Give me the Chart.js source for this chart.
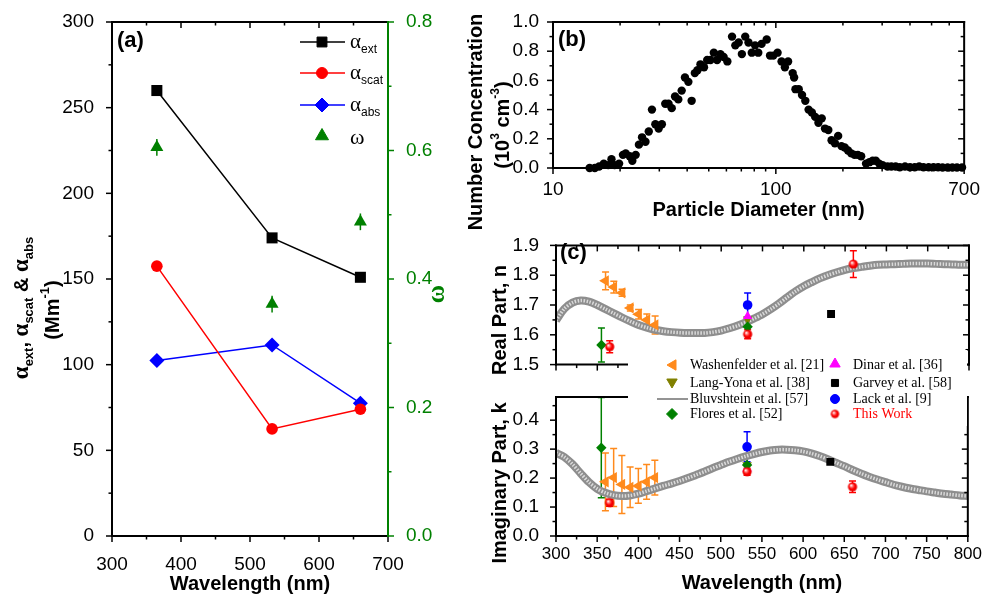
<!DOCTYPE html>
<html>
<head>
<meta charset="utf-8">
<script src="https://cdn.jsdelivr.net/npm/chart.js@4.4.0/dist/chart.umd.min.js"></script>
<style>
body { margin: 0; background: #fff; }
#wrap { position: relative; width: 982px; height: 594px; overflow: hidden; background: #fff; }
canvas { position: absolute; }
</style>
</head>
<body>
<div id="wrap">
<canvas id="cA" width="480" height="594" style="left:0px;top:0px"></canvas>
<canvas id="cB" width="542" height="240" style="left:440px;top:0px"></canvas>
<canvas id="cR" width="542" height="160" style="left:440px;top:225px"></canvas>
<canvas id="cI" width="542" height="254" style="left:440px;top:340px"></canvas>
</div>
<script>
//Panel (a): coeficientes vs longitud de onda
var wlA = [365, 532, 660];
var extA = [260, 174, 151];
var scatA = [157.5, 62.5, 74];
var absA = [102.5, 111.5, 77.5];
var omegaA = [0.605, 0.361, 0.489];
var omegaErrA = [0.013, 0.013, 0.013];
var ticksAx = [300, 400, 500, 600, 700];
var minorAx = [350, 450, 550, 650];
var ticksAy = [0, 50, 100, 150, 200, 250, 300];
var minorAy = [25, 75, 125, 175, 225, 275];
var ticksAw = [0, 0.2, 0.4, 0.6, 0.8];
var minorAw = [0.1, 0.3, 0.5, 0.7];

//Panel (b): distribucion de tamanos
var diamB = [14.6, 15.4, 16.1, 16.9, 17.7, 18.3, 18.9, 19.8, 20.6, 21.2, 22.1, 22.7, 23.5, 24.3,
    25.1, 26.0, 26.9, 27.8, 28.8, 29.8, 30.8, 31.9, 33.0, 34.1,
    35.3, 36.5, 37.8, 39.1, 40.5, 41.9, 43.3, 44.5, 45.9,
    47.6, 49.2, 50.9, 52.7, 54.5, 56.4, 58.3, 60.6,
    63.6, 65.8, 68.1, 70.4, 72.9, 75.4, 78.0, 80.7, 83.4, 86.3,
    91.0, 94.2, 97.4, 101.8, 106.1, 109.8, 113.5, 119.0, 120.8, 122.5,
    126.7, 131.1, 135.6, 140.3, 145.1, 150.2, 155.3, 160.7, 166.2, 172.0,
    177.9, 184.1, 190.4, 197.0, 203.8, 210.8, 218.1, 225.6, 233.4, 241.5,
    254, 263, 272, 281, 291, 301, 317,
    330, 345, 360, 380, 400, 420, 440, 460, 485, 510, 535, 560, 590, 620, 650, 685];
var concB = [0, 0, 0.01, 0.03, 0.02, 0.06, 0.02, 0.03, 0.09, 0.10, 0.08, 0.05, 0.09, 0.16,
    0.21, 0.18, 0.25, 0.40, 0.30, 0.27, 0.30, 0.44, 0.44, 0.41,
    0.49, 0.47, 0.53, 0.62, 0.59, 0.46, 0.65, 0.67, 0.71,
    0.69, 0.74, 0.74, 0.79, 0.74, 0.78, 0.76, 0.73,
    0.90, 0.84, 0.86, 0.78, 0.90, 0.86, 0.79, 0.84, 0.79, 0.85,
    0.88, 0.77, 0.77, 0.79, 0.73, 0.69, 0.73, 0.65, 0.62, 0.54,
    0.54, 0.50, 0.46, 0.40, 0.38, 0.35, 0.31, 0.34, 0.27, 0.26,
    0.19, 0.17, 0.22, 0.15, 0.14, 0.12, 0.10, 0.09, 0.09, 0.08,
    0.03, 0.04, 0.05, 0.05, 0.03, 0.02, 0.01,
    0.01, 0.01, 0.005, 0.01, 0.005, 0.005, 0.01, 0.005, 0.005, 0.005, 0.005, 0.003, 0.003, 0.003, 0.003, 0.003];
var ticksBx = [10, 100, 700];
var minorBx = [20, 30, 40, 50, 60, 70, 80, 90, 200, 300, 400, 500, 600];
var ticksBy = [0, 0.2, 0.4, 0.6, 0.8, 1.0];
var minorBy = [0.1, 0.3, 0.5, 0.7, 0.9];

//Panel (c): indice de refraccion
var wlCurve = [300, 310, 320, 330, 340, 350, 360, 370, 380, 390, 400, 410, 420, 430, 440, 450, 460, 470, 480, 490,
    500, 510, 520, 530, 540, 550, 560, 570, 580, 590, 600, 610, 620, 630, 640, 650, 660, 670, 680, 690,
    700, 710, 720, 730, 740, 750, 760, 770, 780, 790, 800];
var nCurve = [1.648, 1.687, 1.708, 1.715, 1.711, 1.700, 1.686, 1.672, 1.658, 1.645, 1.633, 1.624, 1.617, 1.612, 1.609, 1.607, 1.606, 1.606, 1.606, 1.609,
    1.614, 1.622, 1.631, 1.642, 1.655, 1.669, 1.686, 1.705, 1.726, 1.746, 1.763, 1.777, 1.790, 1.801, 1.810, 1.818, 1.824, 1.828, 1.832, 1.835,
    1.836, 1.837, 1.838, 1.839, 1.839, 1.839, 1.838, 1.837, 1.836, 1.835, 1.835];
var kCurve = [0.287, 0.273, 0.248, 0.216, 0.186, 0.163, 0.149, 0.141, 0.138, 0.140, 0.146, 0.155, 0.164, 0.173, 0.181, 0.190, 0.200, 0.211, 0.222, 0.234,
    0.245, 0.256, 0.266, 0.275, 0.283, 0.290, 0.295, 0.298, 0.298, 0.296, 0.292, 0.285, 0.276, 0.265, 0.253, 0.241, 0.228, 0.216, 0.205, 0.195,
    0.186, 0.177, 0.170, 0.164, 0.159, 0.154, 0.150, 0.146, 0.143, 0.140, 0.138];
var wlWash = [360, 370, 380, 390, 400, 410, 420];
var nWash = [1.781, 1.760, 1.741, 1.690, 1.669, 1.650, 1.633];
var nWashErr = [0.03, 0.02, 0.012, 0.01, 0.016, 0.02, 0.03];
var kWash = [0.187, 0.202, 0.178, 0.168, 0.173, 0.187, 0.202];
var kWashErr = [0.10, 0.10, 0.10, 0.07, 0.06, 0.06, 0.06];
var wlFlores = [355, 532];
var nFlores = [1.566, 1.627];
var nFloresErr = [0.057, 0];
var kFlores = [0.305, 0.245];
var kFloresErr = [0.173, 0];
var wlLang = [532];
var nLang = [1.652];
var kLang = [0.245];
var wlDinar = [532];
var nDinar = [1.662];
var kDinar = [0.232];
var wlGarvey = [633];
var nGarvey = [1.670];
var kGarvey = [0.256];
var wlLack = [532];
var nLack = [1.700];
var nLackErr = [0.04];
var kLack = [0.308];
var kLackErr = [0.052];
var wlThis = [365, 532, 660];
var nThis = [1.560, 1.602, 1.837];
var nThisErr = [0.02, 0.015, 0.045];
var kThis = [0.115, 0.222, 0.170];
var kThisErr = [0.012, 0.012, 0.02];
var ticksCx = [300, 350, 400, 450, 500, 550, 600, 650, 700, 750, 800];
var minorCx = [325, 375, 425, 475, 525, 575, 625, 675, 725, 775];
var ticksRy = [1.5, 1.6, 1.7, 1.8, 1.9];
var minorRy = [1.55, 1.65, 1.75, 1.85];
var ticksIy = [0, 0.1, 0.2, 0.3, 0.4];
var minorIy = [0.05, 0.15, 0.25, 0.35, 0.45];

var SANS = "'Liberation Sans', Arial, sans-serif";
var SERIF = "'Liberation Serif', 'Times New Roman', serif";
var GREEN = '#008000';
var ORANGE = '#ff8a1c';
Chart.defaults.font.family = SANS;
Chart.defaults.color = '#000';

    function pts(xs, ys) {
        return xs.map(function (x, i) { return { x: x, y: ys[i] }; });
    }

    function setTicks(list) {
        return function (axis) { axis.ticks = list.map(function (v) { return { value: v }; }); };
    }

    function axis(o) {
        return {
            type: o.type || 'linear',
            position: o.pos,
            min: o.min,
            max: o.max,
            grid: { display: false },
            border: { display: false },
            afterBuildTicks: setTicks(o.ticks),
            afterFit: function (a) { if (o.w !== undefined) a.width = o.w; if (o.h !== undefined) a.height = o.h; },
            ticks: {
                display: o.labels !== false,
                color: o.color || '#000',
                font: { size: o.size || 19 },
                padding: o.pad || 0,
                autoSkip: false,
                maxRotation: 0,
                callback: o.cb || function (v) { return String(v); }
            },
            title: o.title ? {
                display: true, text: o.title, color: '#000',
                font: { size: 20, weight: 'bold', lineHeight: 1 },
                padding: { top: 0, bottom: o.tpad || 0 }
            } : { display: false }
        };
    }

    function fix1(v) { return v.toFixed(1); }

    function drawRich(ctx, parts, x, y, rot, color) {
        ctx.save();
        ctx.translate(x, y);
        if (rot) ctx.rotate(rot);
        ctx.textBaseline = 'middle';
        ctx.textAlign = 'left';
        var w = 0;
        parts.forEach(function (p) { ctx.font = p.f; w += ctx.measureText(p.t).width; });
        var cx = -w / 2;
        parts.forEach(function (p) {
            ctx.font = p.f;
            ctx.fillStyle = p.c || color || '#000';
            ctx.fillText(p.t, cx, p.dy || 0);
            cx += ctx.measureText(p.t).width;
        });
        ctx.restore();
    }

    function drawLeft(ctx, parts, x, y, color) {
        ctx.save();
        ctx.textBaseline = 'middle';
        ctx.textAlign = 'left';
        var cx = x;
        parts.forEach(function (p) {
            ctx.font = p.f;
            ctx.fillStyle = p.c || color || '#000';
            ctx.fillText(p.t, cx, y + (p.dy || 0));
            cx += ctx.measureText(p.t).width;
        });
        ctx.restore();
    }

    function mark(ctx, style, r, rot, color, x, y) {
        ctx.save();
        ctx.fillStyle = color;
        ctx.strokeStyle = color;
        ctx.lineWidth = 1;
        Chart.helpers.drawPoint(ctx, { pointStyle: style, radius: r, rotation: rot || 0, borderWidth: 1 }, x, y);
        ctx.restore();
    }

    function ballImage(r) {
        var c = document.createElement('canvas');
        var s = Math.ceil(r * 2 + 2);
        c.width = s; c.height = s;
        var g = c.getContext('2d');
        var m = s / 2;
        var grad = g.createRadialGradient(m - r * 0.35, m - r * 0.35, 0.3, m, m, r);
        grad.addColorStop(0, '#ffffff');
        grad.addColorStop(0.3, '#ff7070');
        grad.addColorStop(0.6, '#ff0000');
        grad.addColorStop(1, '#e00000');
        g.fillStyle = grad;
        g.beginPath();
        g.arc(m, m, r, 0, Math.PI * 2);
        g.fill();
        return c;
    }

    function drawBox(chart, spec) {
        var ctx = chart.ctx, ca = chart.chartArea;
        ctx.save();
        ctx.lineWidth = 1.5;
        spec.ticks.forEach(function (t) {
            var sc = chart.scales[t.scale];
            var dir = t.out ? 1 : -1;
            ctx.strokeStyle = t.color || '#000';
            [[t.major, 6], [t.minor, 3.5]].forEach(function (g) {
                g[0].forEach(function (v) {
                    var p = sc.getPixelForValue(v);
                    ctx.beginPath();
                    if (t.edge === 'bottom') { ctx.moveTo(p, ca.bottom); ctx.lineTo(p, ca.bottom + dir * g[1]); }
                    else if (t.edge === 'top') { ctx.moveTo(p, ca.top); ctx.lineTo(p, ca.top - dir * g[1]); }
                    else if (t.edge === 'left') { ctx.moveTo(ca.left, p); ctx.lineTo(ca.left - dir * g[1], p); }
                    else { ctx.moveTo(ca.right, p); ctx.lineTo(ca.right + dir * g[1], p); }
                    ctx.stroke();
                });
            });
        });
        ctx.lineWidth = 2;
        var sides = spec.sides || {};
        function side(name, x1, y1, x2, y2) {
            ctx.strokeStyle = sides[name] || '#000';
            ctx.beginPath(); ctx.moveTo(x1, y1); ctx.lineTo(x2, y2); ctx.stroke();
        }
        side('top', ca.left - 1, ca.top, ca.right + 1, ca.top);
        side('bottom', ca.left - 1, ca.bottom, ca.right + 1, ca.bottom);
        side('left', ca.left, ca.top - 1, ca.left, ca.bottom + 1);
        side('right', ca.right, ca.top - 1, ca.right, ca.bottom + 1);
        ctx.restore();
    }

    function drawErr(chart, dsIndex, errs, color, cap) {
        var meta = chart.getDatasetMeta(dsIndex);
        var ys = chart.scales[meta.yAxisID];
        var data = chart.data.datasets[dsIndex].data;
        var ctx = chart.ctx, ca = chart.chartArea;
        ctx.save();
        ctx.beginPath();
        ctx.rect(ca.left, ca.top, ca.right - ca.left, ca.bottom - ca.top);
        ctx.clip();
        ctx.strokeStyle = color;
        ctx.lineWidth = 1.5;
        meta.data.forEach(function (el, i) {
            var e = errs[i];
            if (!e) return;
            var y1 = ys.getPixelForValue(data[i].y + e);
            var y2 = ys.getPixelForValue(data[i].y - e);
            ctx.beginPath();
            ctx.moveTo(el.x, y1); ctx.lineTo(el.x, y2);
            if (cap) {
                ctx.moveTo(el.x - cap, y1); ctx.lineTo(el.x + cap, y1);
                ctx.moveTo(el.x - cap, y2); ctx.lineTo(el.x + cap, y2);
            }
            ctx.stroke();
        });
        ctx.restore();
    }

var base = {
    responsive: false,
    animation: false,
    events: [],
    plugins: { legend: { display: false }, tooltip: { enabled: false } }
};
function opts(extra) { return Object.assign({}, base, extra); }

//Grafica (a)
var alphaL = function (sub) {
    return [{ t: '\u03b1', f: '21px ' + SERIF }, { t: sub, f: '12px ' + SANS, dy: 8 }];
};
new Chart(document.getElementById('cA'), {
    type: 'scatter',
    data: {
        datasets: [{
            data: pts(wlA, extA), showLine: true, borderColor: '#000', backgroundColor: '#000',
            borderWidth: 1.5, pointStyle: 'rect', pointRadius: 7.8, pointBorderWidth: 0, yAxisID: 'y'
        }, {
            data: pts(wlA, scatA), showLine: true, borderColor: '#ff0000', backgroundColor: '#ff0000',
            borderWidth: 1.5, pointStyle: 'circle', pointRadius: 5.8, pointBorderWidth: 0, yAxisID: 'y'
        }, {
            data: pts(wlA, absA), showLine: true, borderColor: '#0000ff', backgroundColor: '#0000ff',
            borderWidth: 1.5, pointStyle: 'rectRot', pointRadius: 7.5, pointBorderWidth: 0, yAxisID: 'y'
        }, {
            data: pts(wlA, omegaA), showLine: false, borderColor: GREEN, backgroundColor: GREEN,
            pointStyle: 'triangle', pointRadius: 7.5, pointBorderWidth: 0, yAxisID: 'y2'
        }]
    },
    options: opts({
        layout: { padding: { top: 22, left: 0, right: 0, bottom: 0 } },
        scales: {
            x: axis({ pos: 'bottom', min: 300, max: 700, ticks: ticksAx, h: 58, pad: 9, title: 'Wavelength (nm)', tpad: 0 }),
            y: axis({ pos: 'left', min: 0, max: 300, ticks: ticksAy, w: 112, pad: 10 }),
            y2: axis({ pos: 'right', min: 0, max: 0.8, ticks: ticksAw, w: 92, pad: 10, color: GREEN, cb: fix1 })
        }
    }),
    plugins: [{
        id: 'decoA',
        beforeDatasetsDraw: function (chart) { drawErr(chart, 3, omegaErrA, GREEN, 0); },
        afterDraw: function (chart) {
            var ctx = chart.ctx;
            drawBox(chart, {
                sides: { right: GREEN },
                ticks: [
                    { scale: 'x', edge: 'bottom', out: true, major: ticksAx, minor: minorAx },
                    { scale: 'x', edge: 'top', out: false, major: ticksAx, minor: minorAx },
                    { scale: 'y', edge: 'left', out: true, major: ticksAy, minor: minorAy },
                    { scale: 'y2', edge: 'right', out: true, major: ticksAw, minor: minorAw, color: GREEN }
                ]
            });
            drawLeft(ctx, [{ t: '(a)', f: 'bold 22px ' + SANS }], 117, 41);
            // leyenda
            var rows = [[42, '#000', 'rect', 7, 0, 'ext'], [73, '#ff0000', 'circle', 5.5, 0, 'scat'], [105, '#0000ff', 'rectRot', 7, 0, 'abs']];
            rows.forEach(function (r) {
                ctx.save();
                ctx.strokeStyle = r[1]; ctx.lineWidth = 1.5;
                ctx.beginPath(); ctx.moveTo(300, r[0]); ctx.lineTo(345, r[0]); ctx.stroke();
                ctx.restore();
                mark(ctx, r[2], r[3], r[4], r[1], 322, r[0]);
                drawLeft(ctx, alphaL(r[5]), 350, r[0]);
            });
            mark(ctx, 'triangle', 7.5, 0, GREEN, 322, 136);
            drawLeft(ctx, [{ t: '\u03c9', f: '22px ' + SERIF }], 350, 138);
            // titulos de ejes
            var A = 'bold 23px ' + SERIF, S = 'bold 13px ' + SANS, T = 'bold 20px ' + SANS;
            drawRich(ctx, [{ t: '\u03b1', f: A }, { t: 'ext', f: S, dy: 7 }, { t: ', ', f: T },
                { t: '\u03b1', f: A }, { t: 'scat', f: S, dy: 7 }, { t: ' & ', f: T },
                { t: '\u03b1', f: A }, { t: 'abs', f: S, dy: 7 }], 22, 308, -Math.PI / 2);
            drawRich(ctx, [{ t: '(Mm', f: T }, { t: '-1', f: S, dy: -8 }, { t: ')', f: T }], 53, 310, -Math.PI / 2);
            drawRich(ctx, [{ t: '\u03c9', f: 'bold 25px ' + SERIF }], 438, 294, -Math.PI / 2, GREEN);
        }
    }]
});

//Grafica (b)
new Chart(document.getElementById('cB'), {
    type: 'scatter',
    data: {
        datasets: [{
            data: pts(diamB, concB), backgroundColor: '#000', borderColor: '#000',
            pointRadius: 4.2, pointBorderWidth: 0, clip: false
        }]
    },
    options: opts({
        layout: { padding: { top: 22, left: 0, right: 15, bottom: 0 } },
        scales: {
            x: axis({ type: 'logarithmic', pos: 'bottom', min: 10, max: 700, ticks: ticksBx, h: 72, pad: 2, title: 'Particle Diameter (nm)', tpad: 20 }),
            y: axis({ pos: 'left', min: 0, max: 1.0, ticks: ticksBy, w: 113, pad: 6, cb: fix1 })
        }
    }),
    plugins: [{
        id: 'decoB',
        afterDraw: function (chart) {
            var ctx = chart.ctx;
            drawBox(chart, {
                ticks: [
                    { scale: 'x', edge: 'bottom', out: true, major: ticksBx, minor: minorBx },
                    { scale: 'x', edge: 'top', out: false, major: ticksBx, minor: minorBx },
                    { scale: 'y', edge: 'left', out: true, major: ticksBy, minor: minorBy },
                    { scale: 'y', edge: 'right', out: false, major: ticksBy, minor: minorBy }
                ]
            });
            drawLeft(ctx, [{ t: '(b)', f: 'bold 22px ' + SANS }], 118, 40);
            var T = 'bold 20px ' + SANS, S = 'bold 12px ' + SANS;
            drawRich(ctx, [{ t: 'Number Concentration', f: T }], 36, 122, -Math.PI / 2);
            drawRich(ctx, [{ t: '(10', f: T }, { t: '3', f: S, dy: -7 }, { t: ' cm', f: T }, { t: '-3', f: S, dy: -7 }, { t: ')', f: T }], 63, 125, -Math.PI / 2);
        }
    }]
});

//Grafica (c): parte real e imaginaria
var ball = ballImage(4.6);
var ballL = ballImage(4.2);

    function cSets(nOrK) {
        var real = nOrK === 'n';
        return [{
            data: pts(wlThis, real ? nThis : kThis), pointStyle: ball, pointRadius: 4.6, order: 0
        }, {
            data: pts(wlLack, real ? nLack : kLack), backgroundColor: '#0000ff', borderColor: '#0000ff',
            pointStyle: 'circle', pointRadius: 4.8, pointBorderWidth: 0, order: 1
        }, {
            data: pts(wlGarvey, real ? nGarvey : kGarvey), backgroundColor: '#000', borderColor: '#000',
            pointStyle: 'rect', pointRadius: 5.6, pointBorderWidth: 0, order: 2
        }, {
            data: pts(wlFlores, real ? nFlores : kFlores), backgroundColor: GREEN, borderColor: GREEN,
            pointStyle: 'rectRot', pointRadius: 5.2, pointBorderWidth: 0, order: 3
        }, {
            data: pts(wlDinar, real ? nDinar : kDinar), backgroundColor: '#ff00ff', borderColor: '#ff00ff',
            pointStyle: 'triangle', pointRadius: 5.5, pointBorderWidth: 0, order: 4
        }, {
            data: pts(wlLang, real ? nLang : kLang), backgroundColor: '#808000', borderColor: '#808000',
            pointStyle: 'triangle', rotation: 180, pointRadius: 5.5, pointBorderWidth: 0, order: 5
        }, {
            data: pts(wlWash, real ? nWash : kWash), backgroundColor: ORANGE, borderColor: ORANGE,
            pointStyle: 'triangle', rotation: 270, pointRadius: 6.5, pointBorderWidth: 0, order: 6
        }, {
            data: pts(wlCurve, real ? nCurve : kCurve), showLine: true, pointRadius: 0,
            borderColor: 'rgba(238,238,238,0.8)', borderWidth: 3.5, borderDash: [1.5, 1.5], tension: 0.3, order: 7
        }, {
            data: pts(wlCurve, real ? nCurve : kCurve), showLine: true, pointRadius: 0,
            borderColor: '#8e8e8e', borderWidth: 8, tension: 0.3, order: 8
        }];
    }

    function cErr(chart, real) {
        drawErr(chart, 6, real ? nWashErr : kWashErr, ORANGE, 3.5);
        drawErr(chart, 3, real ? nFloresErr : kFloresErr, GREEN, 3.5);
        drawErr(chart, 1, real ? nLackErr : kLackErr, '#0000ff', 3.5);
        drawErr(chart, 0, real ? nThisErr : kThisErr, '#ff0000', 3.5);
    }

new Chart(document.getElementById('cR'), {
    type: 'scatter',
    data: { datasets: cSets('n') },
    options: opts({
        layout: { padding: { top: 11, left: 0, right: 13, bottom: 0 } },
        scales: {
            x: axis({ pos: 'bottom', min: 300, max: 800, ticks: ticksCx, h: 10, labels: false }),
            y: axis({ pos: 'left', min: 1.5, max: 1.9, ticks: ticksRy, w: 116, pad: 9, cb: fix1 })
        }
    }),
    plugins: [{
        id: 'decoR',
        beforeDatasetsDraw: function (chart) { cErr(chart, true); },
        afterDraw: function (chart) {
            var ctx = chart.ctx;
            drawBox(chart, {
                ticks: [
                    { scale: 'x', edge: 'bottom', out: true, major: ticksCx, minor: minorCx },
                    { scale: 'x', edge: 'top', out: false, major: ticksCx, minor: minorCx },
                    { scale: 'y', edge: 'left', out: true, major: ticksRy, minor: minorRy },
                    { scale: 'y', edge: 'right', out: false, major: ticksRy, minor: minorRy }
                ]
            });
            drawLeft(ctx, [{ t: '(c)', f: 'bold 22px ' + SANS }], 120, 28);
            drawRich(ctx, [{ t: 'Real Part, n', f: 'bold 20px ' + SANS }], 60, 95, -Math.PI / 2);
        }
    }]
});

new Chart(document.getElementById('cI'), {
    type: 'scatter',
    data: { datasets: cSets('k') },
    options: opts({
        layout: { padding: { top: 57, left: 0, right: 13, bottom: 0 } },
        scales: {
            x: axis({ pos: 'bottom', min: 300, max: 800, ticks: ticksCx, h: 58, pad: 0, size: 17, title: 'Wavelength (nm)', tpad: 1 }),
            y: axis({ pos: 'left', min: 0, max: 0.48, ticks: ticksIy, w: 116, pad: 9, cb: fix1 })
        }
    }),
    plugins: [{
        id: 'decoI',
        beforeDatasetsDraw: function (chart) { cErr(chart, false); },
        afterDraw: function (chart) {
            var ctx = chart.ctx;
            drawBox(chart, {
                ticks: [
                    { scale: 'x', edge: 'bottom', out: true, major: ticksCx, minor: minorCx },
                    { scale: 'y', edge: 'left', out: true, major: ticksIy, minor: minorIy },
                    { scale: 'y', edge: 'right', out: false, major: ticksIy, minor: minorIy }
                ]
            });
            drawRich(ctx, [{ t: 'Imaginary Part, k', f: 'bold 20px ' + SANS }], 60, 143, -Math.PI / 2);
            // leyenda
            ctx.save();
            ctx.fillStyle = '#fff';
            ctx.fillRect(188, 10, 339, 76);
            ctx.restore();
            var F = '14px ' + SERIF;
            mark(ctx, 'triangle', 6, 270, ORANGE, 233, 25);
            drawLeft(ctx, [{ t: 'Washenfelder et al. [21]', f: F }], 250, 25);
            mark(ctx, 'triangle', 6, 180, '#808000', 232, 42);
            drawLeft(ctx, [{ t: 'Lang-Yona et al. [38]', f: F }], 250, 43);
            ctx.save();
            ctx.strokeStyle = '#707070'; ctx.lineWidth = 1.5;
            ctx.beginPath(); ctx.moveTo(217, 59); ctx.lineTo(248, 59); ctx.stroke();
            ctx.restore();
            drawLeft(ctx, [{ t: 'Bluvshtein et al. [57]', f: F }], 250, 59);
            mark(ctx, 'rectRot', 5.5, 0, GREEN, 232, 74);
            drawLeft(ctx, [{ t: 'Flores et al. [52]', f: F }], 250, 74);
            mark(ctx, 'triangle', 6, 0, '#ff00ff', 395, 24);
            drawLeft(ctx, [{ t: 'Dinar et al. [36]', f: F }], 413, 25);
            mark(ctx, 'rect', 5, 0, '#000', 395, 43);
            drawLeft(ctx, [{ t: 'Garvey et al. [58]', f: F }], 413, 43);
            mark(ctx, 'circle', 4.5, 0, '#0000ff', 395, 59);
            drawLeft(ctx, [{ t: 'Lack et al. [9]', f: F }], 413, 59);
            ctx.drawImage(ballL, 395 - ballL.width / 2, 74 - ballL.height / 2);
            drawLeft(ctx, [{ t: 'This Work', f: F, c: '#ff0000' }], 413, 74);
        }
    }]
});
</script>
</body>
</html>
